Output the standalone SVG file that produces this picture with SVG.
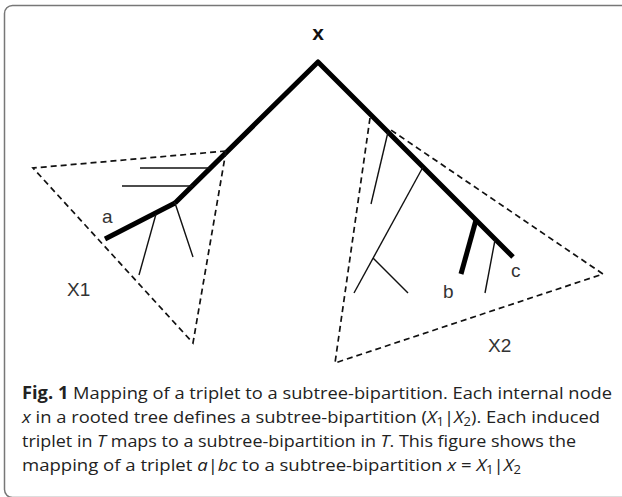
<svg xmlns="http://www.w3.org/2000/svg" width="622" height="497" viewBox="0 0 622 497">
<style>
.thick{stroke:#000;stroke-width:5;fill:none;stroke-linejoin:round}
.thin{stroke:#111;stroke-width:1.4;fill:none}
.dash{stroke:#111;stroke-width:1.7;fill:none;stroke-dasharray:6 4}
.lbl{font-family:"Liberation Sans",Arial,sans-serif;font-size:19px;fill:#333}
.cap{font-family:"Open Sans","Noto Sans",sans-serif;font-size:17px;fill:#222}
.it{font-style:italic}
.sub{font-size:12px}
</style>
<rect x="4.5" y="5.5" width="700" height="492" rx="8" fill="#fff" stroke="#777" stroke-width="1.5"/>
<g id="root"><text x="318" y="40" text-anchor="middle" font-family="Liberation Sans,Arial,sans-serif" font-size="21" font-weight="bold" fill="#111">x</text></g>
<g id="connectors">
<polyline class="thick" points="175,203 318,62 513,257"/>
<line class="thick" x1="175" y1="203" x2="105" y2="239"/>
<line class="thin" x1="140" y1="168" x2="210" y2="168"/>
<line class="thin" x1="122" y1="186" x2="193" y2="186"/>
<line class="thin" x1="175" y1="203" x2="193" y2="257"/>
<line class="thin" x1="156" y1="214" x2="139" y2="275"/>
<line class="thin" x1="388" y1="132" x2="371" y2="204"/>
<line class="thin" x1="423" y1="167" x2="354" y2="293"/>
<line class="thin" x1="373" y1="258" x2="408" y2="293"/>
<line class="thick" x1="476" y1="220" x2="461" y2="274"/>
<line class="thin" x1="495" y1="240" x2="485" y2="293"/>
</g>
<g id="X1-region"><polyline class="dash" points="226,151 33,168 193,343 226,151"/></g>
<g id="X2-region"><polyline class="dash" points="370,118 335,363 603,274 388,128"/></g>
<g id="labels">
<text class="lbl" x="102" y="223">a</text>
<text class="lbl" x="67" y="296">X1</text>
<text class="lbl" x="443" y="298">b</text>
<text class="lbl" x="511" y="277">c</text>
<text class="lbl" x="488" y="352">X2</text>
</g>
<g id="caption">
<text class="cap" x="22" y="399" textLength="590" lengthAdjust="spacingAndGlyphs"><tspan font-weight="bold">Fig. 1</tspan> Mapping of a triplet to a subtree-bipartition. Each internal node</text>
<text class="cap" x="22" y="423" textLength="578" lengthAdjust="spacingAndGlyphs"><tspan class="it">x</tspan> in a rooted tree defines a subtree-bipartition (<tspan class="it">X</tspan><tspan class="sub" dy="3">1</tspan><tspan dy="-3">|</tspan><tspan class="it">X</tspan><tspan class="sub" dy="3">2</tspan><tspan dy="-3">). Each induced</tspan></text>
<text class="cap" x="22" y="447" textLength="554" lengthAdjust="spacingAndGlyphs">triplet in <tspan class="it">T</tspan> maps to a subtree-bipartition in <tspan class="it">T</tspan>. This figure shows the</text>
<text class="cap" x="22" y="471" textLength="499" lengthAdjust="spacingAndGlyphs">mapping of a triplet <tspan class="it">a</tspan>|<tspan class="it">bc</tspan> to a subtree-bipartition <tspan class="it">x</tspan> = <tspan class="it">X</tspan><tspan class="sub" dy="3">1</tspan><tspan dy="-3">|</tspan><tspan class="it">X</tspan><tspan class="sub" dy="3">2</tspan></text>
</g>
</svg>
